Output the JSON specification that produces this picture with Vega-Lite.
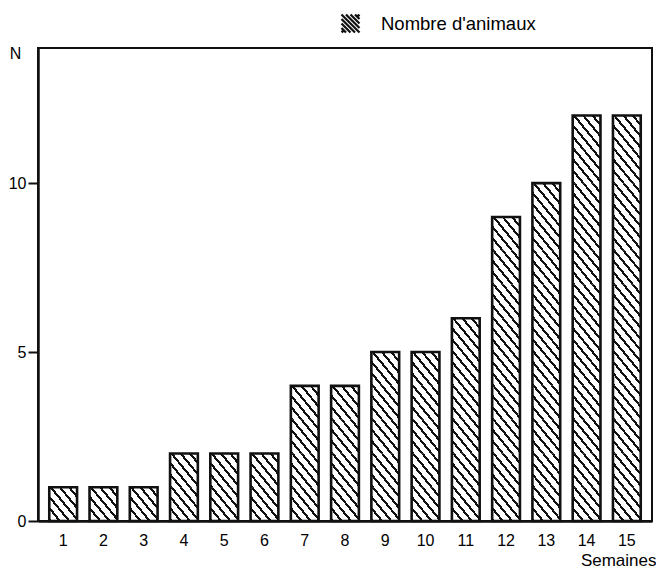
{
  "$schema": "https://vega.github.io/schema/vega-lite/v6.json",
  "autosize": "none",
  "width": 614,
  "height": 473,
  "padding": {"left": 38, "top": 48, "right": 4, "bottom": 47},
  "background": "white",
  "data": {"values": [
    {"semaine": 1, "n": 1}, {"semaine": 2, "n": 1}, {"semaine": 3, "n": 1},
    {"semaine": 4, "n": 2}, {"semaine": 5, "n": 2}, {"semaine": 6, "n": 2},
    {"semaine": 7, "n": 4}, {"semaine": 8, "n": 4}, {"semaine": 9, "n": 5},
    {"semaine": 10, "n": 5}, {"semaine": 11, "n": 6}, {"semaine": 12, "n": 9},
    {"semaine": 13, "n": 10}, {"semaine": 14, "n": 12}, {"semaine": 15, "n": 12}
  ]},
  "encoding": {
    "x": {"field": "semaine", "type": "ordinal",
      "scale": {"paddingInner": 0.31, "paddingOuter": 0.28},
      "axis": {"title": "Semaines", "labelAngle": 0, "ticks": false, "labelPadding": 11, "labelFontSize": 16,
        "titleFontSize": 17, "titleFontWeight": "normal", "titleAnchor": "end", "titleAlign": "right",
        "titleX": 618, "titleY": 39, "titleBaseline": "middle"}}
  },
  "layer": [
    {"transform": [{"filter": "datum.n >= 1"}], "mark": {"type": "bar", "fill": {"gradient": "linear", "x1": 0, "y1": 1, "x2": 1, "y2": 0, "stops": [{"offset": 0, "color": "#111111"}, {"offset": 0.05, "color": "#111111"}, {"offset": 0.05, "color": "#ffffff"}, {"offset": 0.1667, "color": "#ffffff"}, {"offset": 0.1667, "color": "#111111"}, {"offset": 0.2167, "color": "#111111"}, {"offset": 0.2167, "color": "#ffffff"}, {"offset": 0.3333, "color": "#ffffff"}, {"offset": 0.3333, "color": "#111111"}, {"offset": 0.3833, "color": "#111111"}, {"offset": 0.3833, "color": "#ffffff"}, {"offset": 0.5, "color": "#ffffff"}, {"offset": 0.5, "color": "#111111"}, {"offset": 0.55, "color": "#111111"}, {"offset": 0.55, "color": "#ffffff"}, {"offset": 0.6667, "color": "#ffffff"}, {"offset": 0.6667, "color": "#111111"}, {"offset": 0.7167, "color": "#111111"}, {"offset": 0.7167, "color": "#ffffff"}, {"offset": 0.8333, "color": "#ffffff"}, {"offset": 0.8333, "color": "#111111"}, {"offset": 0.8833, "color": "#111111"}, {"offset": 0.8833, "color": "#ffffff"}, {"offset": 1, "color": "#ffffff"}]}}, "encoding": {"y": {"datum": 0, "type": "quantitative", "scale": {"domain": [0, 14], "nice": false}}, "y2": {"datum": 1}}},
    {"transform": [{"filter": "datum.n >= 2"}], "mark": {"type": "bar", "fill": {"gradient": "linear", "x1": 0, "y1": 1, "x2": 1, "y2": 0, "stops": [{"offset": 0, "color": "#111111"}, {"offset": 0.05, "color": "#111111"}, {"offset": 0.05, "color": "#ffffff"}, {"offset": 0.1667, "color": "#ffffff"}, {"offset": 0.1667, "color": "#111111"}, {"offset": 0.2167, "color": "#111111"}, {"offset": 0.2167, "color": "#ffffff"}, {"offset": 0.3333, "color": "#ffffff"}, {"offset": 0.3333, "color": "#111111"}, {"offset": 0.3833, "color": "#111111"}, {"offset": 0.3833, "color": "#ffffff"}, {"offset": 0.5, "color": "#ffffff"}, {"offset": 0.5, "color": "#111111"}, {"offset": 0.55, "color": "#111111"}, {"offset": 0.55, "color": "#ffffff"}, {"offset": 0.6667, "color": "#ffffff"}, {"offset": 0.6667, "color": "#111111"}, {"offset": 0.7167, "color": "#111111"}, {"offset": 0.7167, "color": "#ffffff"}, {"offset": 0.8333, "color": "#ffffff"}, {"offset": 0.8333, "color": "#111111"}, {"offset": 0.8833, "color": "#111111"}, {"offset": 0.8833, "color": "#ffffff"}, {"offset": 1, "color": "#ffffff"}]}}, "encoding": {"y": {"datum": 1, "type": "quantitative", "scale": {"domain": [0, 14], "nice": false}}, "y2": {"datum": 2}}},
    {"transform": [{"filter": "datum.n >= 3"}], "mark": {"type": "bar", "fill": {"gradient": "linear", "x1": 0, "y1": 1, "x2": 1, "y2": 0, "stops": [{"offset": 0, "color": "#111111"}, {"offset": 0.05, "color": "#111111"}, {"offset": 0.05, "color": "#ffffff"}, {"offset": 0.1667, "color": "#ffffff"}, {"offset": 0.1667, "color": "#111111"}, {"offset": 0.2167, "color": "#111111"}, {"offset": 0.2167, "color": "#ffffff"}, {"offset": 0.3333, "color": "#ffffff"}, {"offset": 0.3333, "color": "#111111"}, {"offset": 0.3833, "color": "#111111"}, {"offset": 0.3833, "color": "#ffffff"}, {"offset": 0.5, "color": "#ffffff"}, {"offset": 0.5, "color": "#111111"}, {"offset": 0.55, "color": "#111111"}, {"offset": 0.55, "color": "#ffffff"}, {"offset": 0.6667, "color": "#ffffff"}, {"offset": 0.6667, "color": "#111111"}, {"offset": 0.7167, "color": "#111111"}, {"offset": 0.7167, "color": "#ffffff"}, {"offset": 0.8333, "color": "#ffffff"}, {"offset": 0.8333, "color": "#111111"}, {"offset": 0.8833, "color": "#111111"}, {"offset": 0.8833, "color": "#ffffff"}, {"offset": 1, "color": "#ffffff"}]}}, "encoding": {"y": {"datum": 2, "type": "quantitative", "scale": {"domain": [0, 14], "nice": false}}, "y2": {"datum": 3}}},
    {"transform": [{"filter": "datum.n >= 4"}], "mark": {"type": "bar", "fill": {"gradient": "linear", "x1": 0, "y1": 1, "x2": 1, "y2": 0, "stops": [{"offset": 0, "color": "#111111"}, {"offset": 0.05, "color": "#111111"}, {"offset": 0.05, "color": "#ffffff"}, {"offset": 0.1667, "color": "#ffffff"}, {"offset": 0.1667, "color": "#111111"}, {"offset": 0.2167, "color": "#111111"}, {"offset": 0.2167, "color": "#ffffff"}, {"offset": 0.3333, "color": "#ffffff"}, {"offset": 0.3333, "color": "#111111"}, {"offset": 0.3833, "color": "#111111"}, {"offset": 0.3833, "color": "#ffffff"}, {"offset": 0.5, "color": "#ffffff"}, {"offset": 0.5, "color": "#111111"}, {"offset": 0.55, "color": "#111111"}, {"offset": 0.55, "color": "#ffffff"}, {"offset": 0.6667, "color": "#ffffff"}, {"offset": 0.6667, "color": "#111111"}, {"offset": 0.7167, "color": "#111111"}, {"offset": 0.7167, "color": "#ffffff"}, {"offset": 0.8333, "color": "#ffffff"}, {"offset": 0.8333, "color": "#111111"}, {"offset": 0.8833, "color": "#111111"}, {"offset": 0.8833, "color": "#ffffff"}, {"offset": 1, "color": "#ffffff"}]}}, "encoding": {"y": {"datum": 3, "type": "quantitative", "scale": {"domain": [0, 14], "nice": false}}, "y2": {"datum": 4}}},
    {"transform": [{"filter": "datum.n >= 5"}], "mark": {"type": "bar", "fill": {"gradient": "linear", "x1": 0, "y1": 1, "x2": 1, "y2": 0, "stops": [{"offset": 0, "color": "#111111"}, {"offset": 0.05, "color": "#111111"}, {"offset": 0.05, "color": "#ffffff"}, {"offset": 0.1667, "color": "#ffffff"}, {"offset": 0.1667, "color": "#111111"}, {"offset": 0.2167, "color": "#111111"}, {"offset": 0.2167, "color": "#ffffff"}, {"offset": 0.3333, "color": "#ffffff"}, {"offset": 0.3333, "color": "#111111"}, {"offset": 0.3833, "color": "#111111"}, {"offset": 0.3833, "color": "#ffffff"}, {"offset": 0.5, "color": "#ffffff"}, {"offset": 0.5, "color": "#111111"}, {"offset": 0.55, "color": "#111111"}, {"offset": 0.55, "color": "#ffffff"}, {"offset": 0.6667, "color": "#ffffff"}, {"offset": 0.6667, "color": "#111111"}, {"offset": 0.7167, "color": "#111111"}, {"offset": 0.7167, "color": "#ffffff"}, {"offset": 0.8333, "color": "#ffffff"}, {"offset": 0.8333, "color": "#111111"}, {"offset": 0.8833, "color": "#111111"}, {"offset": 0.8833, "color": "#ffffff"}, {"offset": 1, "color": "#ffffff"}]}}, "encoding": {"y": {"datum": 4, "type": "quantitative", "scale": {"domain": [0, 14], "nice": false}}, "y2": {"datum": 5}}},
    {"transform": [{"filter": "datum.n >= 6"}], "mark": {"type": "bar", "fill": {"gradient": "linear", "x1": 0, "y1": 1, "x2": 1, "y2": 0, "stops": [{"offset": 0, "color": "#111111"}, {"offset": 0.05, "color": "#111111"}, {"offset": 0.05, "color": "#ffffff"}, {"offset": 0.1667, "color": "#ffffff"}, {"offset": 0.1667, "color": "#111111"}, {"offset": 0.2167, "color": "#111111"}, {"offset": 0.2167, "color": "#ffffff"}, {"offset": 0.3333, "color": "#ffffff"}, {"offset": 0.3333, "color": "#111111"}, {"offset": 0.3833, "color": "#111111"}, {"offset": 0.3833, "color": "#ffffff"}, {"offset": 0.5, "color": "#ffffff"}, {"offset": 0.5, "color": "#111111"}, {"offset": 0.55, "color": "#111111"}, {"offset": 0.55, "color": "#ffffff"}, {"offset": 0.6667, "color": "#ffffff"}, {"offset": 0.6667, "color": "#111111"}, {"offset": 0.7167, "color": "#111111"}, {"offset": 0.7167, "color": "#ffffff"}, {"offset": 0.8333, "color": "#ffffff"}, {"offset": 0.8333, "color": "#111111"}, {"offset": 0.8833, "color": "#111111"}, {"offset": 0.8833, "color": "#ffffff"}, {"offset": 1, "color": "#ffffff"}]}}, "encoding": {"y": {"datum": 5, "type": "quantitative", "scale": {"domain": [0, 14], "nice": false}}, "y2": {"datum": 6}}},
    {"transform": [{"filter": "datum.n >= 7"}], "mark": {"type": "bar", "fill": {"gradient": "linear", "x1": 0, "y1": 1, "x2": 1, "y2": 0, "stops": [{"offset": 0, "color": "#111111"}, {"offset": 0.05, "color": "#111111"}, {"offset": 0.05, "color": "#ffffff"}, {"offset": 0.1667, "color": "#ffffff"}, {"offset": 0.1667, "color": "#111111"}, {"offset": 0.2167, "color": "#111111"}, {"offset": 0.2167, "color": "#ffffff"}, {"offset": 0.3333, "color": "#ffffff"}, {"offset": 0.3333, "color": "#111111"}, {"offset": 0.3833, "color": "#111111"}, {"offset": 0.3833, "color": "#ffffff"}, {"offset": 0.5, "color": "#ffffff"}, {"offset": 0.5, "color": "#111111"}, {"offset": 0.55, "color": "#111111"}, {"offset": 0.55, "color": "#ffffff"}, {"offset": 0.6667, "color": "#ffffff"}, {"offset": 0.6667, "color": "#111111"}, {"offset": 0.7167, "color": "#111111"}, {"offset": 0.7167, "color": "#ffffff"}, {"offset": 0.8333, "color": "#ffffff"}, {"offset": 0.8333, "color": "#111111"}, {"offset": 0.8833, "color": "#111111"}, {"offset": 0.8833, "color": "#ffffff"}, {"offset": 1, "color": "#ffffff"}]}}, "encoding": {"y": {"datum": 6, "type": "quantitative", "scale": {"domain": [0, 14], "nice": false}}, "y2": {"datum": 7}}},
    {"transform": [{"filter": "datum.n >= 8"}], "mark": {"type": "bar", "fill": {"gradient": "linear", "x1": 0, "y1": 1, "x2": 1, "y2": 0, "stops": [{"offset": 0, "color": "#111111"}, {"offset": 0.05, "color": "#111111"}, {"offset": 0.05, "color": "#ffffff"}, {"offset": 0.1667, "color": "#ffffff"}, {"offset": 0.1667, "color": "#111111"}, {"offset": 0.2167, "color": "#111111"}, {"offset": 0.2167, "color": "#ffffff"}, {"offset": 0.3333, "color": "#ffffff"}, {"offset": 0.3333, "color": "#111111"}, {"offset": 0.3833, "color": "#111111"}, {"offset": 0.3833, "color": "#ffffff"}, {"offset": 0.5, "color": "#ffffff"}, {"offset": 0.5, "color": "#111111"}, {"offset": 0.55, "color": "#111111"}, {"offset": 0.55, "color": "#ffffff"}, {"offset": 0.6667, "color": "#ffffff"}, {"offset": 0.6667, "color": "#111111"}, {"offset": 0.7167, "color": "#111111"}, {"offset": 0.7167, "color": "#ffffff"}, {"offset": 0.8333, "color": "#ffffff"}, {"offset": 0.8333, "color": "#111111"}, {"offset": 0.8833, "color": "#111111"}, {"offset": 0.8833, "color": "#ffffff"}, {"offset": 1, "color": "#ffffff"}]}}, "encoding": {"y": {"datum": 7, "type": "quantitative", "scale": {"domain": [0, 14], "nice": false}}, "y2": {"datum": 8}}},
    {"transform": [{"filter": "datum.n >= 9"}], "mark": {"type": "bar", "fill": {"gradient": "linear", "x1": 0, "y1": 1, "x2": 1, "y2": 0, "stops": [{"offset": 0, "color": "#111111"}, {"offset": 0.05, "color": "#111111"}, {"offset": 0.05, "color": "#ffffff"}, {"offset": 0.1667, "color": "#ffffff"}, {"offset": 0.1667, "color": "#111111"}, {"offset": 0.2167, "color": "#111111"}, {"offset": 0.2167, "color": "#ffffff"}, {"offset": 0.3333, "color": "#ffffff"}, {"offset": 0.3333, "color": "#111111"}, {"offset": 0.3833, "color": "#111111"}, {"offset": 0.3833, "color": "#ffffff"}, {"offset": 0.5, "color": "#ffffff"}, {"offset": 0.5, "color": "#111111"}, {"offset": 0.55, "color": "#111111"}, {"offset": 0.55, "color": "#ffffff"}, {"offset": 0.6667, "color": "#ffffff"}, {"offset": 0.6667, "color": "#111111"}, {"offset": 0.7167, "color": "#111111"}, {"offset": 0.7167, "color": "#ffffff"}, {"offset": 0.8333, "color": "#ffffff"}, {"offset": 0.8333, "color": "#111111"}, {"offset": 0.8833, "color": "#111111"}, {"offset": 0.8833, "color": "#ffffff"}, {"offset": 1, "color": "#ffffff"}]}}, "encoding": {"y": {"datum": 8, "type": "quantitative", "scale": {"domain": [0, 14], "nice": false}}, "y2": {"datum": 9}}},
    {"transform": [{"filter": "datum.n >= 10"}], "mark": {"type": "bar", "fill": {"gradient": "linear", "x1": 0, "y1": 1, "x2": 1, "y2": 0, "stops": [{"offset": 0, "color": "#111111"}, {"offset": 0.05, "color": "#111111"}, {"offset": 0.05, "color": "#ffffff"}, {"offset": 0.1667, "color": "#ffffff"}, {"offset": 0.1667, "color": "#111111"}, {"offset": 0.2167, "color": "#111111"}, {"offset": 0.2167, "color": "#ffffff"}, {"offset": 0.3333, "color": "#ffffff"}, {"offset": 0.3333, "color": "#111111"}, {"offset": 0.3833, "color": "#111111"}, {"offset": 0.3833, "color": "#ffffff"}, {"offset": 0.5, "color": "#ffffff"}, {"offset": 0.5, "color": "#111111"}, {"offset": 0.55, "color": "#111111"}, {"offset": 0.55, "color": "#ffffff"}, {"offset": 0.6667, "color": "#ffffff"}, {"offset": 0.6667, "color": "#111111"}, {"offset": 0.7167, "color": "#111111"}, {"offset": 0.7167, "color": "#ffffff"}, {"offset": 0.8333, "color": "#ffffff"}, {"offset": 0.8333, "color": "#111111"}, {"offset": 0.8833, "color": "#111111"}, {"offset": 0.8833, "color": "#ffffff"}, {"offset": 1, "color": "#ffffff"}]}}, "encoding": {"y": {"datum": 9, "type": "quantitative", "scale": {"domain": [0, 14], "nice": false}}, "y2": {"datum": 10}}},
    {"transform": [{"filter": "datum.n >= 11"}], "mark": {"type": "bar", "fill": {"gradient": "linear", "x1": 0, "y1": 1, "x2": 1, "y2": 0, "stops": [{"offset": 0, "color": "#111111"}, {"offset": 0.05, "color": "#111111"}, {"offset": 0.05, "color": "#ffffff"}, {"offset": 0.1667, "color": "#ffffff"}, {"offset": 0.1667, "color": "#111111"}, {"offset": 0.2167, "color": "#111111"}, {"offset": 0.2167, "color": "#ffffff"}, {"offset": 0.3333, "color": "#ffffff"}, {"offset": 0.3333, "color": "#111111"}, {"offset": 0.3833, "color": "#111111"}, {"offset": 0.3833, "color": "#ffffff"}, {"offset": 0.5, "color": "#ffffff"}, {"offset": 0.5, "color": "#111111"}, {"offset": 0.55, "color": "#111111"}, {"offset": 0.55, "color": "#ffffff"}, {"offset": 0.6667, "color": "#ffffff"}, {"offset": 0.6667, "color": "#111111"}, {"offset": 0.7167, "color": "#111111"}, {"offset": 0.7167, "color": "#ffffff"}, {"offset": 0.8333, "color": "#ffffff"}, {"offset": 0.8333, "color": "#111111"}, {"offset": 0.8833, "color": "#111111"}, {"offset": 0.8833, "color": "#ffffff"}, {"offset": 1, "color": "#ffffff"}]}}, "encoding": {"y": {"datum": 10, "type": "quantitative", "scale": {"domain": [0, 14], "nice": false}}, "y2": {"datum": 11}}},
    {"transform": [{"filter": "datum.n >= 12"}], "mark": {"type": "bar", "fill": {"gradient": "linear", "x1": 0, "y1": 1, "x2": 1, "y2": 0, "stops": [{"offset": 0, "color": "#111111"}, {"offset": 0.05, "color": "#111111"}, {"offset": 0.05, "color": "#ffffff"}, {"offset": 0.1667, "color": "#ffffff"}, {"offset": 0.1667, "color": "#111111"}, {"offset": 0.2167, "color": "#111111"}, {"offset": 0.2167, "color": "#ffffff"}, {"offset": 0.3333, "color": "#ffffff"}, {"offset": 0.3333, "color": "#111111"}, {"offset": 0.3833, "color": "#111111"}, {"offset": 0.3833, "color": "#ffffff"}, {"offset": 0.5, "color": "#ffffff"}, {"offset": 0.5, "color": "#111111"}, {"offset": 0.55, "color": "#111111"}, {"offset": 0.55, "color": "#ffffff"}, {"offset": 0.6667, "color": "#ffffff"}, {"offset": 0.6667, "color": "#111111"}, {"offset": 0.7167, "color": "#111111"}, {"offset": 0.7167, "color": "#ffffff"}, {"offset": 0.8333, "color": "#ffffff"}, {"offset": 0.8333, "color": "#111111"}, {"offset": 0.8833, "color": "#111111"}, {"offset": 0.8833, "color": "#ffffff"}, {"offset": 1, "color": "#ffffff"}]}}, "encoding": {"y": {"datum": 11, "type": "quantitative", "scale": {"domain": [0, 14], "nice": false}}, "y2": {"datum": 12}}},
    {
      "mark": {"type": "bar", "fill": "transparent", "strokeWidth": 2.6, "strokeJoin": "miter"},
      "encoding": {
        "y": {"field": "n", "type": "quantitative",
          "scale": {"domain": [0, 14], "nice": false},
          "axis": {"title": "N", "values": [0, 5, 10], "tickSize": 10, "tickWidth": 2, "labelFontSize": 16, "labelPadding": 2,
            "titleAngle": 0, "titleX": -23, "titleY": 5, "titleAlign": "center", "titleBaseline": "middle",
            "titleFontSize": 16, "titleFontWeight": "normal"}},
        "stroke": {"datum": "Nombre d'animaux", "type": "nominal",
          "scale": {"range": ["#111111"]},
          "legend": {"title": null, "orient": "none", "legendX": 302, "legendY": -35, "padding": 0,
            "symbolType": "M-1,-1L1,1M-1,-0.5L0.5,1M-1,0L0,1M-1,0.5L-0.5,1M-0.5,-1L1,0.5M0,-1L1,0M0.5,-1L1,-0.5M-1,0.8L-0.8,1M0.8,-1L1,-0.8",
            "symbolSize": 324, "symbolStrokeWidth": 2.2, "symbolFillColor": "transparent",
            "labelFontSize": 18.5, "labelOffset": 20, "labelColor": "black", "labelFont": "Liberation Sans"}}
      }
    }
  ],
  "config": {
    "font": "Liberation Sans",
    "view": {"stroke": "#111111", "strokeWidth": 2},
    "axis": {"grid": false, "domainColor": "#111111", "domainWidth": 2.5, "tickColor": "#111111", "labelColor": "black", "titleColor": "black",
      "labelFont": "Liberation Sans", "titleFont": "Liberation Sans"}
  }
}
